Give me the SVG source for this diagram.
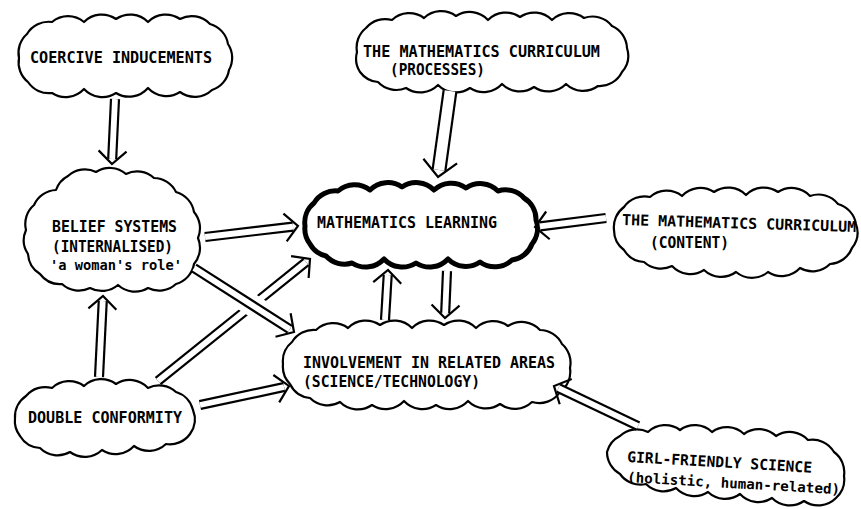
<svg xmlns="http://www.w3.org/2000/svg" width="861" height="509" viewBox="0 0 861 509">
<style>
.cloud{fill:#fff;stroke:#000;stroke-width:2.2;stroke-linejoin:round}
.thick{stroke-width:5}
.o{fill:none;stroke:#000;stroke-width:10.2}
.i{fill:none;stroke:#fff;stroke-width:5.8;marker-end:url(#head)}
.w .o{stroke-width:15}
.w .i{stroke-width:10.6;marker-end:url(#headW)}
.halo{fill:none;stroke:#fff;stroke-width:22}
text{font-family:"DejaVu Sans Mono","Liberation Mono",monospace;font-weight:bold;font-size:15px;fill:#000}
.lc{font-size:14px}
</style>
<defs>
<marker id="head" markerUnits="userSpaceOnUse" orient="auto" markerWidth="40" markerHeight="40" viewBox="-20 -20 40 40" refX="0" refY="0" overflow="visible">
<path d="M-8,-14 L5,0 L-8,14" fill="none" stroke="#000" stroke-width="2.2" stroke-linejoin="miter"/>
</marker>
<marker id="headW" markerUnits="userSpaceOnUse" orient="auto" markerWidth="50" markerHeight="50" viewBox="-25 -25 50 50" refX="0" refY="0" overflow="visible">
<path d="M-9,-17 L7,0 L-9,17" fill="none" stroke="#000" stroke-width="2.2" stroke-linejoin="miter"/>
</marker>
</defs>
<rect width="861" height="509" fill="#fff"/>

<g id="coercive">
<path class="cloud" d="M19,58 A25,25 0 0 1 27,34 A25,25 0 0 1 52,22 A25,25 0 0 1 84,22 A25,25 0 0 1 116,19 A25,25 0 0 1 148,22 A25,25 0 0 1 180,19 A25,25 0 0 1 210,24 A25,25 0 0 1 228,44 A25,25 0 0 1 229,70 A25,25 0 0 1 212,90 A25,25 0 0 1 180,92 A25,25 0 0 1 148,88 A25,25 0 0 1 116,93 A25,25 0 0 1 84,89 A25,25 0 0 1 52,93 A25,25 0 0 1 28,82 A25,25 0 0 1 19,58 Z"/>
<text x="30" y="63" textLength="182" lengthAdjust="spacingAndGlyphs">COERCIVE INDUCEMENTS</text>
</g>

<g id="processes">
<path class="cloud" d="M357,52 A25,25 0 0 1 366,28 A25,25 0 0 1 392,20 A25,25 0 0 1 424,18 A25,25 0 0 1 456,16 A25,25 0 0 1 488,20 A25,25 0 0 1 520,17 A25,25 0 0 1 552,20 A25,25 0 0 1 584,18 A25,25 0 0 1 612,26 A25,25 0 0 1 627,48 A25,25 0 0 1 622,72 A25,25 0 0 1 598,86 A25,25 0 0 1 566,84 A25,25 0 0 1 534,87 A25,25 0 0 1 502,84 A25,25 0 0 1 470,88 A25,25 0 0 1 438,85 A25,25 0 0 1 406,88 A25,25 0 0 1 378,82 A25,25 0 0 1 360,72 A25,25 0 0 1 357,52 Z"/>
<text x="363" y="57" textLength="237" lengthAdjust="spacingAndGlyphs">THE MATHEMATICS CURRICULUM</text>
<text x="390" y="75" textLength="95" lengthAdjust="spacingAndGlyphs">(PROCESSES)</text>
</g>

<g id="belief">
<path class="cloud" d="M26,230 A25,25 0 0 1 34,205 A25,25 0 0 1 56,190 A25,25 0 0 1 68,176 A25,25 0 0 1 96,172 A25,25 0 0 1 126,174 A25,25 0 0 1 154,178 A25,25 0 0 1 176,192 A25,25 0 0 1 194,212 A25,25 0 0 1 198,238 A25,25 0 0 1 194,264 A25,25 0 0 1 176,284 A25,25 0 0 1 148,288 A25,25 0 0 1 118,285 A25,25 0 0 1 90,288 A25,25 0 0 1 62,284 A25,25 0 0 1 40,274 A25,25 0 0 1 28,254 A25,25 0 0 1 26,230 Z"/>
<text x="52" y="232" textLength="125" lengthAdjust="spacingAndGlyphs">BELIEF SYSTEMS</text>
<text x="52" y="252" textLength="121" lengthAdjust="spacingAndGlyphs">(INTERNALISED)</text>
<text class="lc" x="50" y="270" textLength="132" lengthAdjust="spacingAndGlyphs">'a woman's role'</text>
</g>

<g id="learning">
<path class="cloud thick" d="M305,226 A25,25 0 0 1 314,203 A25,25 0 0 1 338,191 A25,25 0 0 1 370,190 A25,25 0 0 1 402,187 A25,25 0 0 1 434,190 A25,25 0 0 1 466,188 A25,25 0 0 1 498,191 A25,25 0 0 1 524,198 A25,25 0 0 1 536,220 A25,25 0 0 1 532,244 A25,25 0 0 1 512,260 A25,25 0 0 1 480,262 A25,25 0 0 1 448,259 A25,25 0 0 1 416,263 A25,25 0 0 1 384,259 A25,25 0 0 1 352,263 A25,25 0 0 1 326,256 A25,25 0 0 1 310,244 A25,25 0 0 1 305,226 Z"/>
<text x="317" y="228" textLength="180" lengthAdjust="spacingAndGlyphs">MATHEMATICS LEARNING</text>
</g>

<g id="content">
<path class="cloud" d="M614,230 A25,25 0 0 1 624,207 A25,25 0 0 1 650,197 A25,25 0 0 1 682,196 A25,25 0 0 1 714,192 A25,25 0 0 1 746,195 A25,25 0 0 1 778,192 A25,25 0 0 1 810,196 A25,25 0 0 1 838,204 A25,25 0 0 1 856,224 A25,25 0 0 1 852,248 A25,25 0 0 1 830,264 A25,25 0 0 1 800,268 A25,25 0 0 1 768,272 A25,25 0 0 1 736,272 A25,25 0 0 1 704,270 A25,25 0 0 1 672,266 A25,25 0 0 1 644,262 A25,25 0 0 1 624,250 A25,25 0 0 1 614,230 Z"/>
<text x="622" y="225" textLength="234" lengthAdjust="spacingAndGlyphs" transform="rotate(1.7 622 225)">THE MATHEMATICS CURRICULUM</text>
<text x="650" y="248" textLength="79" lengthAdjust="spacingAndGlyphs">(CONTENT)</text>
</g>

<g id="involvement">
<path class="cloud" d="M283,364 A25,25 0 0 1 292,342 A25,25 0 0 1 316,330 A25,25 0 0 1 348,328 A25,25 0 0 1 380,325 A25,25 0 0 1 412,328 A25,25 0 0 1 444,325 A25,25 0 0 1 476,328 A25,25 0 0 1 508,326 A25,25 0 0 1 540,330 A25,25 0 0 1 562,344 A25,25 0 0 1 570,368 A25,25 0 0 1 560,392 A25,25 0 0 1 532,402 A25,25 0 0 1 500,404 A25,25 0 0 1 468,401 A25,25 0 0 1 436,405 A25,25 0 0 1 404,401 A25,25 0 0 1 372,405 A25,25 0 0 1 340,402 A25,25 0 0 1 310,398 A25,25 0 0 1 290,384 A25,25 0 0 1 283,364 Z"/>
<text x="303" y="368" textLength="252" lengthAdjust="spacingAndGlyphs">INVOLVEMENT IN RELATED AREAS</text>
<text x="303" y="387" textLength="177" lengthAdjust="spacingAndGlyphs">(SCIENCE/TECHNOLOGY)</text>
</g>

<g id="conformity">
<path class="cloud" d="M15,418 A25,25 0 0 1 26,396 A25,25 0 0 1 52,388 A25,25 0 0 1 84,386 A25,25 0 0 1 116,384 A25,25 0 0 1 148,388 A25,25 0 0 1 176,392 A25,25 0 0 1 193,410 A25,25 0 0 1 190,434 A25,25 0 0 1 166,444 A25,25 0 0 1 134,446 A25,25 0 0 1 102,450 A25,25 0 0 1 70,452 A25,25 0 0 1 40,448 A25,25 0 0 1 20,436 A25,25 0 0 1 15,418 Z"/>
<text x="28" y="423" textLength="154" lengthAdjust="spacingAndGlyphs">DOUBLE CONFORMITY</text>
</g>

<g id="girlfriendly">
<path class="cloud" d="M607,452 A25,25 0 0 1 620,436 A25,25 0 0 1 648,432 A25,25 0 0 1 680,430 A25,25 0 0 1 712,432 A25,25 0 0 1 744,434 A25,25 0 0 1 776,436 A25,25 0 0 1 808,440 A25,25 0 0 1 834,452 A25,25 0 0 1 844,476 A25,25 0 0 1 836,498 A25,25 0 0 1 804,501 A25,25 0 0 1 772,498 A25,25 0 0 1 740,494 A25,25 0 0 1 708,492 A25,25 0 0 1 676,488 A25,25 0 0 1 646,484 A25,25 0 0 1 620,474 A25,25 0 0 1 607,452 Z"/>
<text x="627" y="462" textLength="185" lengthAdjust="spacingAndGlyphs" transform="rotate(3.3 627 462)">GIRL-FRIENDLY SCIENCE</text>
<text class="lc" x="627" y="482" textLength="213" lengthAdjust="spacingAndGlyphs" transform="rotate(3.3 627 482)">(holistic, human-related)</text>
</g>

<g id="connectors">
<g><path class="o" d="M115,99 L112.2,159"/><path class="i" d="M115,99 L112.2,159"/></g>
<g class="w"><path class="o" d="M450,91 L439,170"/><path class="i" d="M450,91 L439,170"/></g>
<g><path class="o" d="M205,237 L293,226.6"/><path class="i" d="M205,237 L293,226.6"/></g>
<g><path class="o" d="M158,381 L306.1,262.1"/><path class="i" d="M158,381 L306.1,262.1"/></g>
<path class="halo" d="M239,296.8 L266,314.1"/>
<g><path class="o" d="M194,268 L289.8,329.3"/><path class="i" d="M194,268 L289.8,329.3"/></g>
<g><path class="o" d="M99,377 L102.75,301"/><path class="i" d="M99,377 L102.75,301"/></g>
<g><path class="o" d="M200,405 L284.1,387"/><path class="i" d="M200,405 L284.1,387"/></g>
<g><path class="o" d="M606,218 L540,226.4"/><path class="i" d="M606,218 L540,226.4"/></g>
<g><path class="o" d="M385,320 L387.7,275"/><path class="i" d="M385,320 L387.7,275"/></g>
<g><path class="o" d="M447,271 L445.2,313"/><path class="i" d="M447,271 L445.2,313"/></g>
<g><path class="o" d="M638,426 L558.5,388.2"/><path class="i" d="M638,426 L558.5,388.2"/></g>
</g>
</svg>
